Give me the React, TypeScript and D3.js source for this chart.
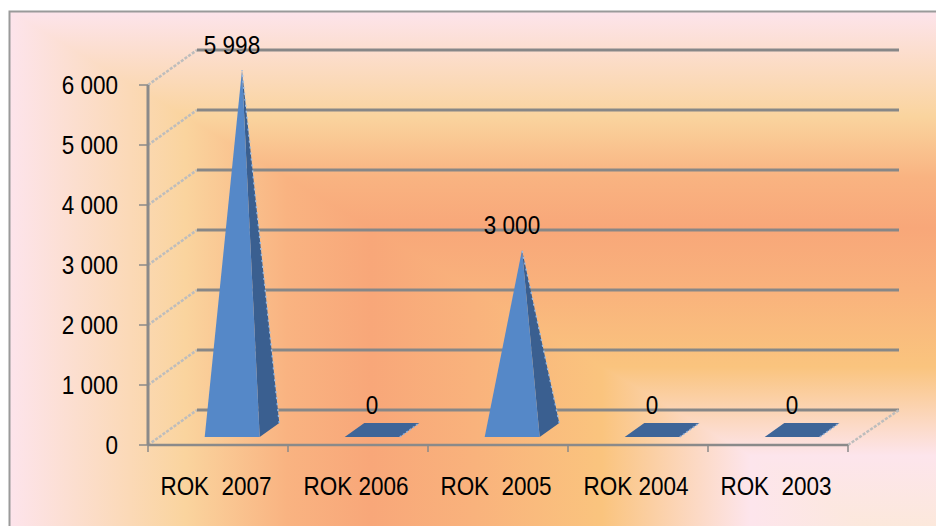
import React from "react";
import * as d3 from "d3";

const categories = ["ROK  2007", "ROK 2006", "ROK  2005", "ROK 2004", "ROK  2003"];
const values = [5998, 0, 3000, 0, 0];
const yTicks = [0, 1000, 2000, 3000, 4000, 5000, 6000];

const W = 936;
const H = 526;
const DX = 49;
const DY = 35;

const fmt = d3.formatLocale({ decimal: ",", thousands: " ", grouping: [3], currency: ["", ""] }).format(",");

// background gradient stops (rectangular path gradient from the bottom-right corner)
const bgStops: [number, string][] = [
  [0, "#fbead2"],
  [0.2, "#fde5ec"],
  [0.36, "#fac47e"],
  [0.5, "#f9b27c"],
  [0.61, "#f8a779"],
  [0.7, "#f9b381"],
  [0.81, "#fad49e"],
  [1, "#fde4ec"],
];

function Label({ x, y, children, anchor = "middle", dy }: any) {
  return (
    <text transform={`translate(${x},${y}) scale(0.9,1)`} dy={dy} textAnchor={anchor}
      fontFamily="'Liberation Sans', Arial, sans-serif" fontSize={25} fill="#000" style={{ whiteSpace: "pre" }}>
      {children}
    </text>
  );
}

export default function App() {
  const x = d3.scaleBand<string>().domain(categories).range([148, 848]);
  const y = d3.scaleLinear().domain([0, 6000]).range([445, 85]);
  const x0 = x.range()[0];
  const x1 = x.range()[1];
  const p = (xf: number, v: number, f: number): [number, number] => [xf + f * DX, y(v) - f * DY];
  const pts = (arr: [number, number][]) => arr.map((a) => a.join(",")).join(" ");

  const f0 = 8 / 35, f1 = 22 / 35, fm = 15 / 35, half = 27.5;

  // gradient frame
  const L = 9, T = 11, Rc = 936, Bc = 567;

  return (
    <svg width={W} height={H} style={{ position: "absolute", left: 0, top: 0 }}>
      <defs>
        <linearGradient id="bgH" gradientUnits="userSpaceOnUse" x1={Rc} y1={0} x2={L} y2={0}>
          {bgStops.map(([o, c]) => <stop key={"h" + o} offset={o} stopColor={c} />)}
        </linearGradient>
        <linearGradient id="bgV" gradientUnits="userSpaceOnUse" x1={0} y1={Bc} x2={0} y2={T}>
          {bgStops.map(([o, c]) => <stop key={"v" + o} offset={o} stopColor={c} />)}
        </linearGradient>
      </defs>
      <rect x={0} y={0} width={W} height={H} fill="#ffffff" />
      <rect x={L} y={T} width={W - L + 10} height={H} fill="url(#bgH)" />
      <polygon points={pts([[L, T], [Rc + 10, T], [Rc + 10, Bc + (10 * (Bc - T)) / (Rc - L)], [L, T]])} fill="url(#bgV)" />
      <rect x={L + 0.5} y={T + 0.5} width={940} height={540} fill="none" stroke="#9a9a9a" strokeWidth={2} />

      {/* left wall diagonals */}
      {yTicks.map((t) => {
        const a = p(x0, t, 0), b = p(x0, t, 1);
        return <line key={"lw" + t} x1={a[0]} y1={a[1]} x2={b[0]} y2={b[1]} stroke="#bdbdbd" strokeWidth={2.5} strokeDasharray="3,1.5" />;
      })}
      {/* back wall gridlines */}
      {yTicks.map((t) => {
        const a = p(x0, t, 1), b = p(x1 + 2, t, 1);
        return <line key={"g" + t} x1={a[0]} y1={a[1]} x2={b[0]} y2={b[1]} stroke="#878787" strokeWidth={3} />;
      })}
      {/* right floor diagonal */}
      {(() => {
        const a = p(x1, 0, 0), b = p(x1, 0, 1);
        return <line x1={a[0]} y1={a[1]} x2={b[0] + 2} y2={b[1]} stroke="#bdbdbd" strokeWidth={2.5} strokeDasharray="3,1.5" />;
      })()}
      {/* front floor line */}
      <line x1={x0} y1={y(0)} x2={x1} y2={y(0)} stroke="#8a8a8a" strokeWidth={2.5} />
      {/* category ticks */}
      {[x0, ...categories.map((c) => (x(c) as number) + x.bandwidth())].map((xx, i) => (
        <line key={"ct" + i} x1={xx} y1={y(0)} x2={xx} y2={y(0) + 7} stroke="#8a8a8a" strokeWidth={1.5} />
      ))}
      {/* y axis */}
      <line x1={x0} y1={y(6000)} x2={x0} y2={y(0)} stroke="#8a8a8a" strokeWidth={3} />
      {yTicks.map((t) => (
        <line key={"yt" + t} x1={x0 - 9} y1={y(t)} x2={x0} y2={y(t)} stroke="#8a8a8a" strokeWidth={1.5} />
      ))}
      {yTicks.map((t) => (
        <Label key={"yl" + t} x={118} y={y(t)} dy="0.36em" anchor="end">{fmt(t)}</Label>
      ))}

      {/* pyramids */}
      {categories.map((c, i) => {
        const v = values[i];
        const cx = (x(c) as number) + x.bandwidth() / 2 + 3;
        const FL = p(cx - half, 0, f0), FR = p(cx + half, 0, f0);
        const BR = p(cx + half, 0, f1), BL = p(cx - half, 0, f1);
        const AP = p(cx, v, fm);
        if (v > 0) {
          return (
            <g key={"b" + c}>
              <polygon points={pts([FR, BR, AP])} fill="#3a5f90" />
              <polygon points={pts([FL, FR, AP])} fill="#5588c8" />
              <line x1={BR[0]} y1={BR[1]} x2={AP[0]} y2={AP[1]} stroke="#9dbce2" strokeWidth={1.5} strokeDasharray="2,4" />
            </g>
          );
        }
        return (
          <g key={"b" + c}>
            <polygon points={pts([FL, FR, BR, BL])} fill="#3e6598" />
            <line x1={FR[0]} y1={FR[1]} x2={BR[0]} y2={BR[1]} stroke="#8fb1dc" strokeWidth={1.5} strokeDasharray="2,2" />
          </g>
        );
      })}

      {/* value labels */}
      {categories.map((c, i) => {
        const v = values[i];
        const cx = (x(c) as number) + x.bandwidth() / 2 + 14;
        return <Label key={"vl" + c} x={cx} y={y(v) - 31}>{fmt(v)}</Label>;
      })}

      {/* category labels */}
      {categories.map((c) => (
        <Label key={"xl" + c} x={(x(c) as number) + x.bandwidth() / 2 - 2} y={495}>{c}</Label>
      ))}
    </svg>
  );
}
